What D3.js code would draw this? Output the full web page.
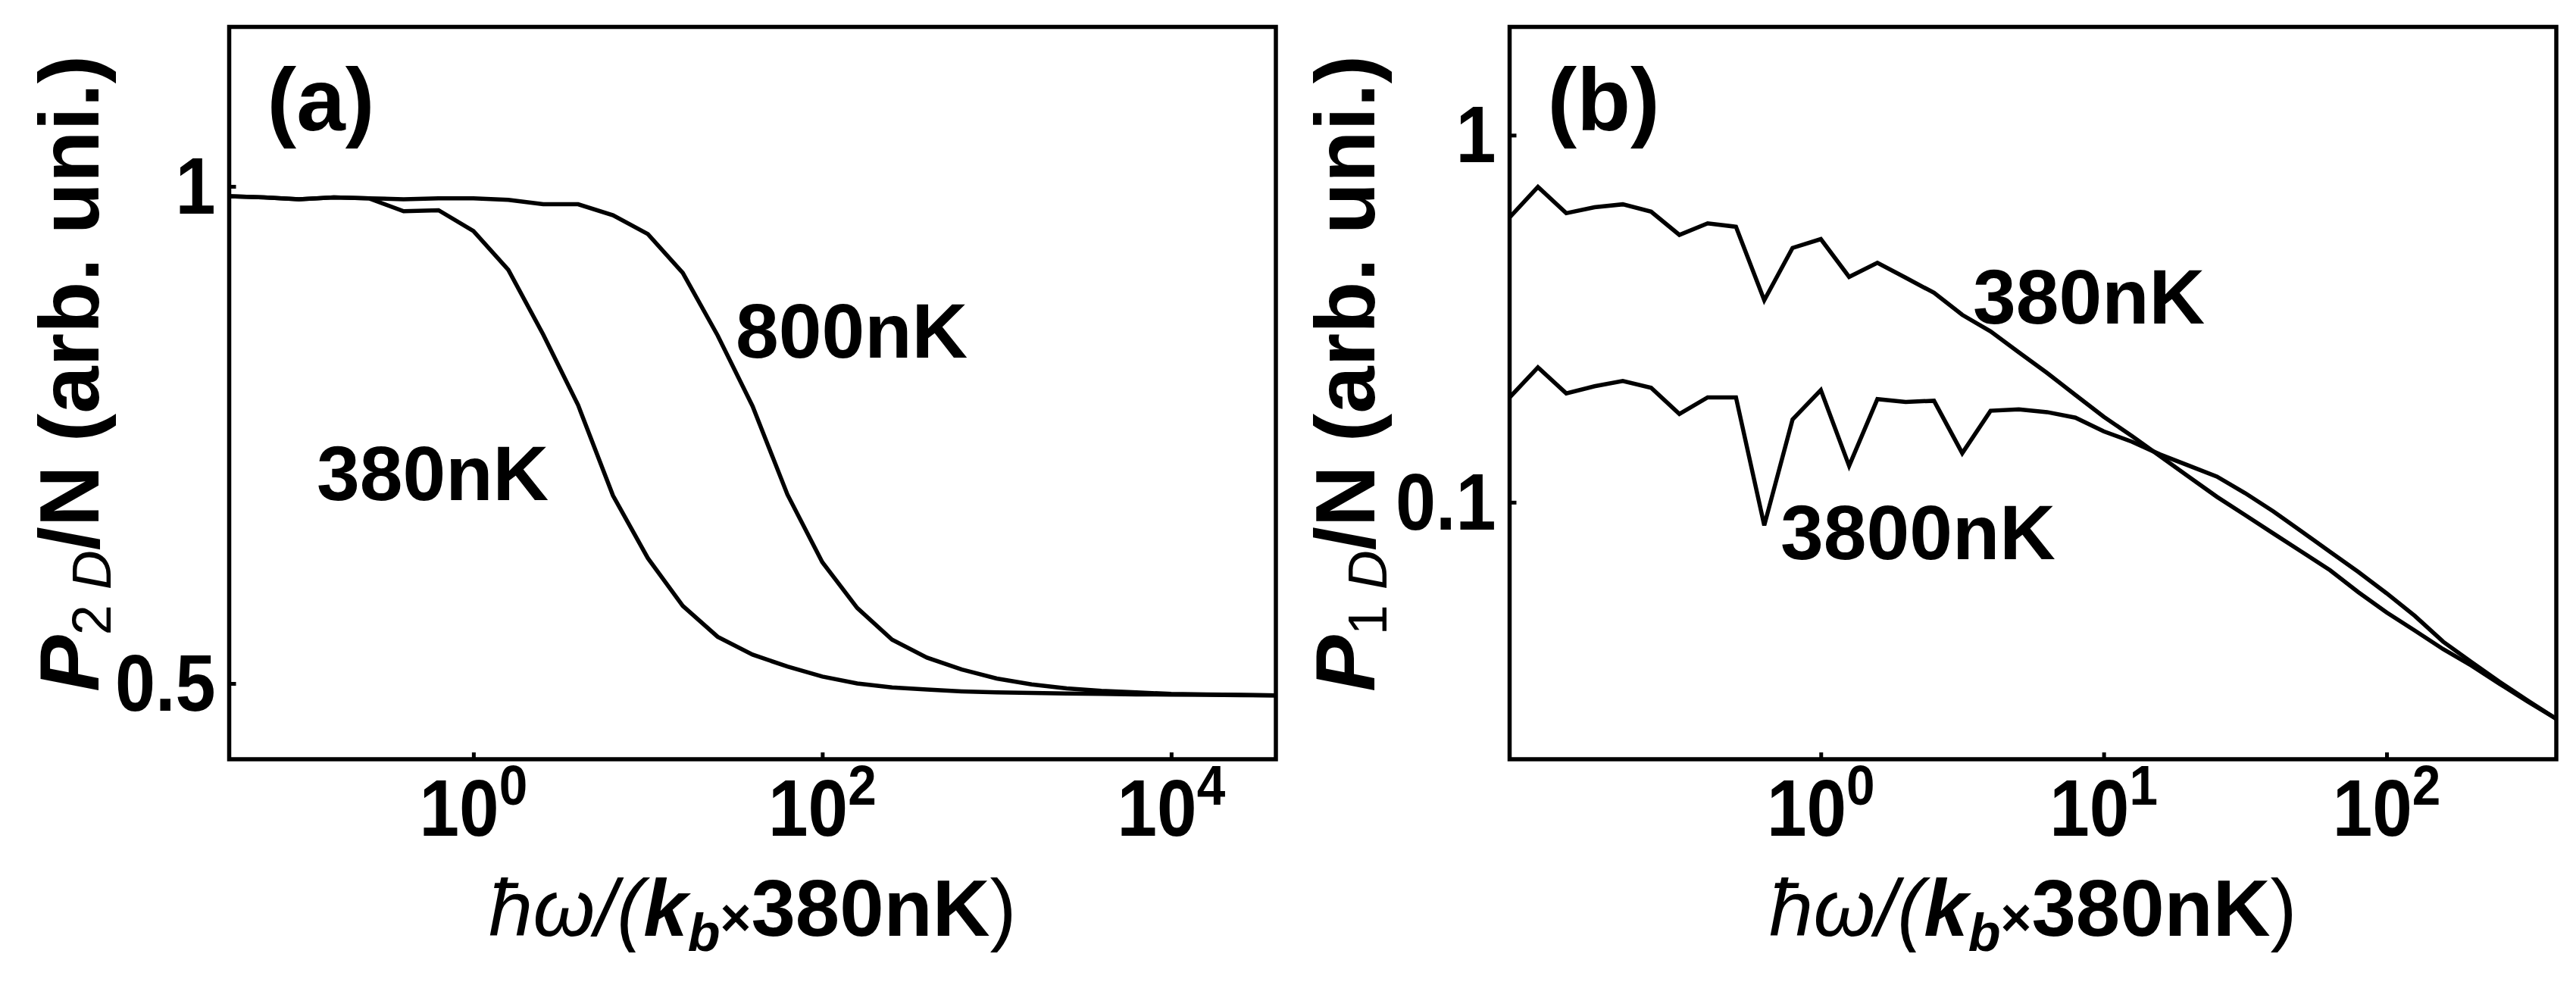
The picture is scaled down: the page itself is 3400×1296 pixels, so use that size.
<!DOCTYPE html>
<html>
<head>
<meta charset="utf-8">
<script src="https://cdn.jsdelivr.net/npm/d3@7"></script>
<style>
  body { margin: 0; background: #fff; }
  svg { display: block; font-family: "Liberation Sans", Arial, sans-serif; }
</style>
</head>
<body>
<svg id="chart"></svg>
<script>
// panel (a): P_2D/N vs frequency, 0.2 decade grid
const aOmega = [0.0398, 0.0631, 0.1, 0.1585, 0.2512, 0.3981, 0.631, 1, 1.585, 2.512,
  3.981, 6.31, 10, 15.85, 25.12, 39.81, 63.1, 100, 158.5, 251.2, 398.1, 631, 1000,
  1585, 2512, 3981, 6310, 10000, 15850, 25120, 39810];
const a380 = [0.990, 0.989, 0.987, 0.989, 0.988, 0.975, 0.976, 0.955, 0.916, 0.851,
  0.780, 0.689, 0.626, 0.578, 0.547, 0.529, 0.517, 0.507, 0.500, 0.496, 0.494, 0.492,
  0.491, 0.4905, 0.490, 0.4895, 0.489, 0.4888, 0.4885, 0.4882, 0.488];
const a800 = [0.990, 0.989, 0.987, 0.989, 0.988, 0.987, 0.988, 0.988, 0.9865, 0.982,
  0.982, 0.971, 0.952, 0.913, 0.850, 0.779, 0.690, 0.622, 0.576, 0.544, 0.526, 0.514,
  0.505, 0.499, 0.495, 0.4925, 0.491, 0.4895, 0.489, 0.4885, 0.488];

// panel (b): P_1D/N vs frequency, 0.1 decade grid
const bOmega = [0.0794, 0.1, 0.1259, 0.1585, 0.1995, 0.2512, 0.3162, 0.3981, 0.5012,
  0.631, 0.7943, 1, 1.259, 1.585, 1.995, 2.512, 3.162, 3.981, 5.012, 6.31, 7.943, 10,
  12.59, 15.85, 19.95, 25.12, 31.62, 39.81, 50.12, 63.1, 79.43, 100, 125.9, 158.5,
  199.5, 251.2, 316.2, 398.1];
const b380 = [0.597, 0.723, 0.613, 0.636, 0.648, 0.619, 0.535, 0.575, 0.563, 0.355,
  0.493, 0.521, 0.411, 0.449, 0.409, 0.372, 0.324, 0.292, 0.256, 0.225, 0.196, 0.171,
  0.1514, 0.1334, 0.1175, 0.1035, 0.0923, 0.0822, 0.0733, 0.0653, 0.0569, 0.0501,
  0.0447, 0.0398, 0.0359, 0.0320, 0.0286, 0.0257];
const b3800 = [0.193, 0.233, 0.198, 0.207, 0.214, 0.205, 0.174, 0.193, 0.193, 0.0865,
  0.168, 0.202, 0.1256, 0.191, 0.1876, 0.189, 0.136, 0.1775, 0.179, 0.176, 0.170, 0.156,
  0.1462, 0.1349, 0.1259, 0.1175, 0.1059, 0.0944, 0.0832, 0.0733, 0.0646, 0.0565,
  0.0490, 0.0417, 0.0367, 0.0324, 0.0288, 0.0257];

const aXTicks = [0, 2, 4];
const aYTicks = [0.5, 1];
const bXTicks = [0, 1, 2];
const bYTicks = [0.1, 1];

const width = 3400, height = 1296;
const plotTop = 35.5, plotBottom = 1002;
const svg = d3.select("#chart").attr("width", width).attr("height", height);

function panel(opt) {
  const g = svg.append("g");
  const x = opt.x, y = opt.y;
  const [x0, x1] = x.range();

  g.append("clipPath").attr("id", "clip-" + opt.id)
    .append("rect").attr("x", x0).attr("y", plotTop)
    .attr("width", x1 - x0).attr("height", plotBottom - plotTop);

  const line = d3.line().x((d) => x(d[0])).y((d) => y(d[1]));
  opt.series.forEach((s) => {
    g.append("path")
      .attr("clip-path", `url(#clip-${opt.id})`)
      .attr("d", line(opt.omega.map((w, i) => [w, s[i]])))
      .attr("fill", "none")
      .attr("stroke", "#000")
      .attr("stroke-width", 5.5)
      .attr("stroke-linejoin", "miter");
  });

  // inward ticks
  const xa = g.append("g").attr("transform", `translate(0,${plotBottom})`)
    .call(d3.axisBottom(x).tickValues(opt.xTicks.map((e) => Math.pow(10, e))).tickSize(-9).tickFormat(""));
  const ya = g.append("g").attr("transform", `translate(${x0},0)`)
    .call(d3.axisLeft(y).tickValues(opt.yTicks).tickSize(-9).tickFormat(""));
  [xa, ya].forEach((a) => {
    a.select(".domain").remove();
    a.selectAll("line").attr("stroke", "#000").attr("stroke-width", 5);
  });

  g.append("rect")
    .attr("x", x0).attr("y", plotTop).attr("width", x1 - x0).attr("height", plotBottom - plotTop)
    .attr("fill", "none").attr("stroke", "#000").attr("stroke-width", 5.5);

  // x tick labels 10^n
  opt.xTicks.forEach((e) => {
    const t = g.append("text")
      .attr("transform", `translate(${x(Math.pow(10, e))},1103) scale(0.9,1)`)
      .attr("text-anchor", "middle").attr("font-weight", "bold");
    t.append("tspan").attr("font-size", 105).text("10");
    t.append("tspan").attr("font-size", 75).attr("dy", -41).text(e);
  });

  // y tick labels
  opt.yTicks.forEach((v) => {
    g.append("text")
      .attr("transform", `translate(${x0 - 18},${y(v) + 36}) scale(0.9,1)`)
      .attr("text-anchor", "end").attr("font-weight", "bold").attr("font-size", 106)
      .text(v);
  });

  // x title
  const xt = g.append("text")
    .attr("x", (x0 + x1) / 2).attr("y", 1235)
    .attr("text-anchor", "middle").attr("font-size", 105);
  xt.append("tspan").attr("font-style", "italic").text("ħω/(");
  xt.append("tspan").attr("font-style", "italic").attr("font-weight", "bold").text("k");
  xt.append("tspan").attr("font-style", "italic").attr("font-weight", "bold")
    .attr("font-size", 70).attr("dy", 20).text("b");
  xt.append("tspan").attr("font-weight", "bold").attr("font-size", 70).attr("dy", -20).text("×");
  xt.append("tspan").attr("font-weight", "bold").text("380nK");
  xt.append("tspan").text(")");

  // y title
  const yt = g.append("text")
    .attr("transform", `translate(${opt.titleX},913) rotate(-90)`)
    .attr("font-size", 112).attr("font-weight", "bold");
  yt.append("tspan").attr("font-style", "italic").text("P");
  yt.append("tspan").attr("font-weight", "normal").attr("font-size", 72).attr("dy", 16).text(opt.sub);
  yt.append("tspan").attr("font-weight", "normal").attr("font-style", "italic")
    .attr("font-size", 72).text(" D");
  yt.append("tspan").attr("dy", -16).text("/N (arb. uni.)");

  // panel letter
  g.append("text").attr("x", x0 + 50).attr("y", 172)
    .attr("font-size", 116).attr("font-weight", "bold").text(opt.letter);

  opt.labels.forEach((l) => {
    g.append("text").attr("x", l.x).attr("y", l.y)
      .attr("font-size", 102).attr("font-weight", "bold").text(l.text);
  });
}

panel({
  id: "a",
  x: d3.scaleLog().domain([0.0398, 39810]).range([302.5, 1684]),
  y: d3.scaleLinear().domain([0.4238, 1.1604]).range([plotBottom, plotTop]),
  omega: aOmega,
  series: [a380, a800],
  xTicks: aXTicks,
  yTicks: aYTicks,
  titleX: 130,
  sub: "2",
  letter: "(a)",
  labels: [{ text: "800nK", x: 971, y: 472 }, { text: "380nK", x: 418, y: 660 }],
});

panel({
  id: "b",
  x: d3.scaleLog().domain([0.0794, 398.1]).range([1992.5, 3374]),
  y: d3.scaleLog().domain([0.01995, 1.972]).range([plotBottom, plotTop]),
  omega: bOmega,
  series: [b380, b3800],
  xTicks: bXTicks,
  yTicks: bYTicks,
  titleX: 1814,
  sub: "1",
  letter: "(b)",
  labels: [{ text: "380nK", x: 2604, y: 427 }, { text: "3800nK", x: 2350, y: 738 }],
});
</script>
</body>
</html>
